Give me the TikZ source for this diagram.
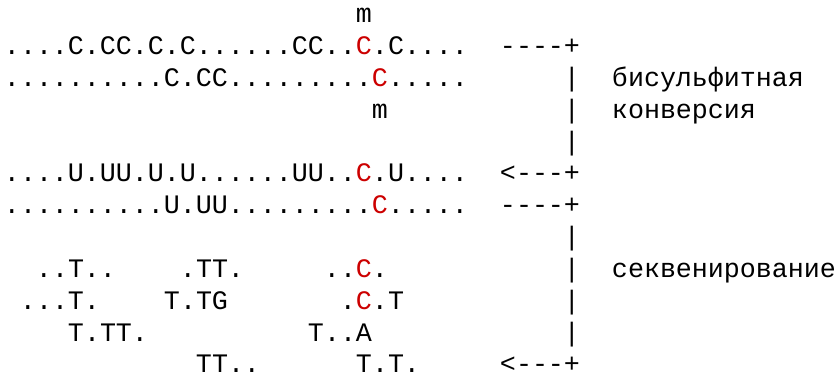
\documentclass[tikz,border=0pt]{standalone}
\usepackage{fontspec}
\newfontfamily\gridfont{Liberation Mono}
\definecolor{methred}{RGB}{204,0,0}

% every character sits in a fixed 16pt cell, as on a terminal grid
\def\gridstep#1{\ifx#1\relax\else\makebox[16pt]{#1}\expandafter\gridstep\fi}
\newcommand\gridtext[1]{\gridstep#1\relax}
\newcommand\rc{\textcolor{methred}{C}}

\tikzset{
  cell/.style={anchor=base west, inner sep=0pt, outer sep=0pt, text depth=0pt,
    font=\gridfont\fontsize{26.7}{30}\selectfont},
}
% column c starts at x = 4 + 16c; row baselines are 31.9pt apart
\newcommand\col[1]{\the\numexpr 4+16*#1\relax}

\begin{document}
\begin{tikzpicture}[x=1pt,y=1pt]
\useasboundingbox (0,0) rectangle (836,-375);

% methylation marks and reference strands
\node[cell] (m1) at (\col{22},-22) {\gridtext{m}};
\node[cell] (s1) at (\col{0},-54) {\gridtext{....C.CC.C.C......CC..{\rc}.C....}};
\node[cell] (a1) at (\col{31},-54) {\gridtext{----+}};
\node[cell] (s2) at (\col{0},-86) {\gridtext{..........C.CC.........{\rc}.....}};
\node[cell] (b2) at (\col{35},-86) {\gridtext{|}};
\node[cell] (l1) at (\col{38},-86) {\gridtext{бисульфитная}};
\node[cell] (m2) at (\col{23},-118) {\gridtext{m}};
\node[cell] (b3) at (\col{35},-118) {\gridtext{|}};
\node[cell] (l2) at (\col{38},-118) {\gridtext{конверсия}};
\node[cell] (b4) at (\col{35},-150) {\gridtext{|}};

% converted strands
\node[cell] (u1) at (\col{0},-181.5) {\gridtext{....U.UU.U.U......UU..{\rc}.U....}};
\node[cell] (a2) at (\col{31},-181.5) {\gridtext{<---+}};
\node[cell] (u2) at (\col{0},-213) {\gridtext{..........U.UU.........{\rc}.....}};
\node[cell] (a3) at (\col{31},-213) {\gridtext{----+}};
\node[cell] (b7) at (\col{35},-245) {\gridtext{|}};

% sequencing reads
\node[cell] (r1a) at (\col{2},-277) {\gridtext{..T..}};
\node[cell] (r1b) at (\col{11},-277) {\gridtext{.TT.}};
\node[cell] (r1c) at (\col{20},-277) {\gridtext{..{\rc}.}};
\node[cell] (b8) at (\col{35},-277) {\gridtext{|}};
\node[cell] (l3) at (\col{38},-277) {\gridtext{секвенирование}};

\node[cell] (r2a) at (\col{1},-309) {\gridtext{...T.}};
\node[cell] (r2b) at (\col{10},-309) {\gridtext{T.TG}};
\node[cell] (r2c) at (\col{21},-309) {\gridtext{.{\rc}.T}};
\node[cell] (b9) at (\col{35},-309) {\gridtext{|}};

\node[cell] (r3a) at (\col{4},-341) {\gridtext{T.TT.}};
\node[cell] (r3b) at (\col{19},-341) {\gridtext{T..A}};
\node[cell] (b10) at (\col{35},-341) {\gridtext{|}};

\node[cell] (r4a) at (\col{12},-372) {\gridtext{TT..}};
\node[cell] (r4b) at (\col{22},-372) {\gridtext{T.T.}};
\node[cell] (a4) at (\col{31},-372) {\gridtext{<---+}};
\end{tikzpicture}
\end{document}
